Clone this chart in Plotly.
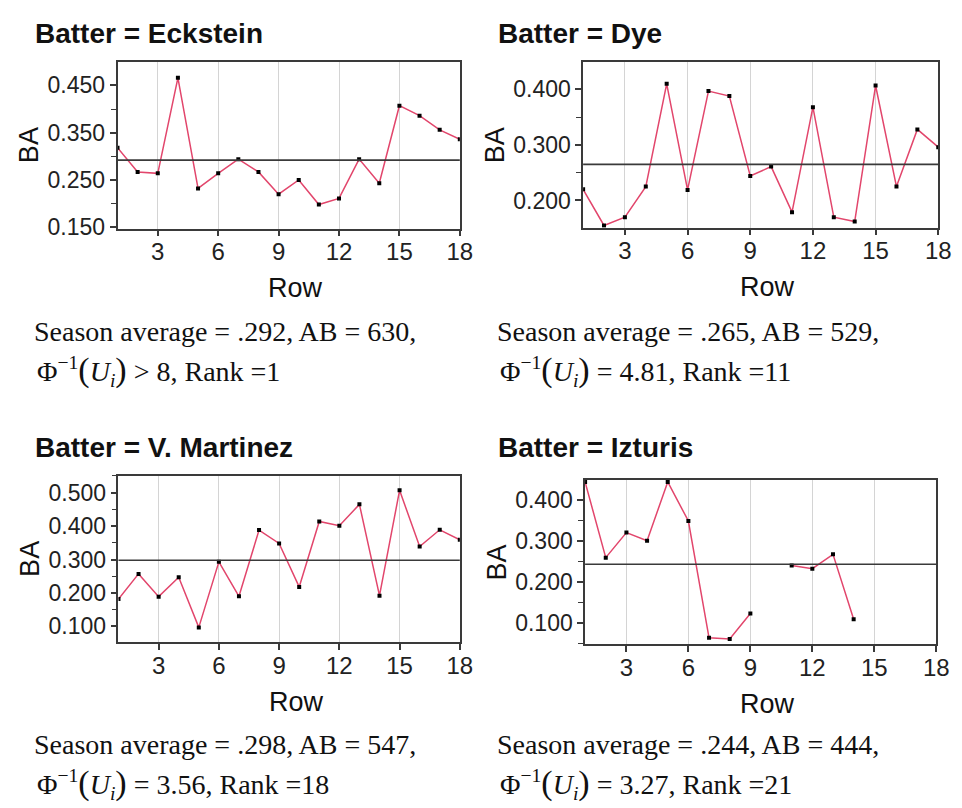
import plotly.graph_objects as go

W, H = 962, 808

rows = list(range(1, 19))

batters = ["Eckstein", "Dye", "V. Martinez", "Izturis"]

ba_eckstein = [0.318, 0.267, 0.264, 0.466, 0.232, 0.264, 0.294, 0.267, 0.220,
               0.250, 0.198, 0.211, 0.294, 0.243, 0.407, 0.386, 0.356, 0.336]
ba_dye = [0.220, 0.155, 0.170, 0.225, 0.410, 0.219, 0.397, 0.388, 0.244,
          0.261, 0.179, 0.368, 0.170, 0.162, 0.407, 0.225, 0.328, 0.296]
ba_martinez = [0.182, 0.257, 0.189, 0.247, 0.097, 0.293, 0.190, 0.388, 0.348,
               0.218, 0.414, 0.401, 0.465, 0.192, 0.507, 0.339, 0.389, 0.359]
ba_izturis = [0.444, 0.260, 0.321, 0.301, 0.444, 0.349, 0.065, 0.062, 0.124,
              None, 0.241, 0.233, 0.268, 0.110, None, None, None, None]

season_avg = [0.292, 0.265, 0.298, 0.244]
at_bats = [630, 529, 547, 444]
phi_text = ["> 8", "= 4.81", "= 3.56", "= 3.27"]
ranks = [1, 11, 18, 21]

series = [ba_eckstein, ba_dye, ba_martinez, ba_izturis]

# layout (pixel boxes of plot areas: left, right, top, bottom)
boxes = [(111, 458, 55, 224), (583, 943, 55, 223),
         (112, 458, 475, 644), (585, 941, 479, 646)]
yranges = [(0.147, 0.499), (0.151, 0.449), (0.052, 0.550), (0.049, 0.449)]
ytick0 = [0.15, 0.2, 0.1, 0.1]
col_left = [25, 495]
row_top = [0, 420]

def fx(p):
    return p / W

def fy(p):
    return 1 - p / H

fig = go.Figure()
annotations = []
shapes = []
LINE_COLOR = "#e2466c"
FRAME = "#3a3a3a"
SANS = "Liberation Sans, Arial, sans-serif"
SERIF = "Liberation Serif, Times New Roman, serif"

for i in range(4):
    l, r, t, b = boxes[i]
    cx = col_left[i % 2]
    ry = row_top[i // 2]
    ax = "" if i == 0 else str(i + 1)
    xname, yname = "x" + ax, "y" + ax
    fig.add_trace(go.Scatter(
        x=rows, y=series[i], mode="lines+markers", xaxis=xname, yaxis=yname,
        line=dict(color=LINE_COLOR, width=1.5), connectgaps=False,
        marker=dict(color="black", size=4, symbol="square"),
        showlegend=False, hoverinfo="x+y"))
    tick_font = dict(family=SANS, size=23, color="#222")
    fig.update_layout(**{
        "xaxis" + ax: dict(
            domain=[fx(l), fx(r)], range=[1, 18], anchor=yname,
            tickvals=[3, 6, 9, 12, 15, 18], showgrid=True, gridcolor="#d4d4d4",
            gridwidth=1, zeroline=False, showline=True, linecolor=FRAME,
            linewidth=1.5, mirror=True, ticks="outside", ticklen=6,
            tickcolor=FRAME, tickwidth=1.5, tickfont=dict(family=SANS, size=24, color="#222"),
            ticklabelstandoff=-5),
        "yaxis" + ax: dict(
            domain=[fy(b), fy(t)], range=list(yranges[i]), anchor=xname,
            tick0=ytick0[i], dtick=0.1, tickformat=".3f", showgrid=False,
            zeroline=False, showline=True, linecolor=FRAME, linewidth=1.5,
            mirror=True, ticks="outside", ticklen=6, tickcolor=FRAME,
            tickwidth=1.5, tickfont=tick_font, ticklabelstandoff=0,
            minor=dict(tick0=ytick0[i] + 0.05, dtick=0.1, ticks="outside",
                       ticklen=5, tickcolor=FRAME, tickwidth=1.2)),
    })
    shapes.append(dict(type="line", xref=xname + " domain", yref=yname,
                       x0=0, x1=1, y0=season_avg[i], y1=season_avg[i],
                       line=dict(color=FRAME, width=1.6), layer="above"))

    # panel title
    annotations.append(dict(
        text="<b>Batter = %s</b>" % batters[i], xref="paper", yref="paper",
        x=fx(cx), y=fy(ry + 26), xanchor="left", yanchor="middle",
        showarrow=False, font=dict(family=SANS, size=28, color="#111")))
    # axis titles
    annotations.append(dict(
        text="BA", xref="paper", yref="paper", x=fx(l - 89), y=fy((t + b) / 2),
        xanchor="center", yanchor="middle", textangle=-90, showarrow=False,
        font=dict(family=SANS, size=27, color="#111")))
    annotations.append(dict(
        text="Row", xref="paper", yref="paper", x=fx((l + r) / 2 + 7), y=fy(b + 60),
        xanchor="center", yanchor="middle", showarrow=False,
        font=dict(family=SANS, size=27, color="#111")))
    # description lines
    serif = dict(family=SERIF, size=28, color="#111")
    annotations.append(dict(
        text="Season average = .%03d, AB = %d," % (round(season_avg[i] * 1000), at_bats[i]),
        xref="paper", yref="paper", x=fx(cx - 1), y=fy(ry + 328),
        xanchor="left", yanchor="middle", showarrow=False, font=serif))
    annotations.append(dict(
        text="Φ<sup>−1</sup><span style='font-size:34px'>(</span><i>U<sub>i</sub></i>"
             "<span style='font-size:34px'>)</span> %s, Rank =%d" % (phi_text[i], ranks[i]),
        xref="paper", yref="paper", x=fx(cx + 2), y=fy(ry + 368),
        xanchor="left", yanchor="middle", showarrow=False, font=serif))

fig.update_layout(
    width=W, height=H, margin=dict(l=0, r=0, t=0, b=0),
    paper_bgcolor="white", plot_bgcolor="white",
    annotations=annotations, shapes=shapes,
)

fig.write_html("out.html")
